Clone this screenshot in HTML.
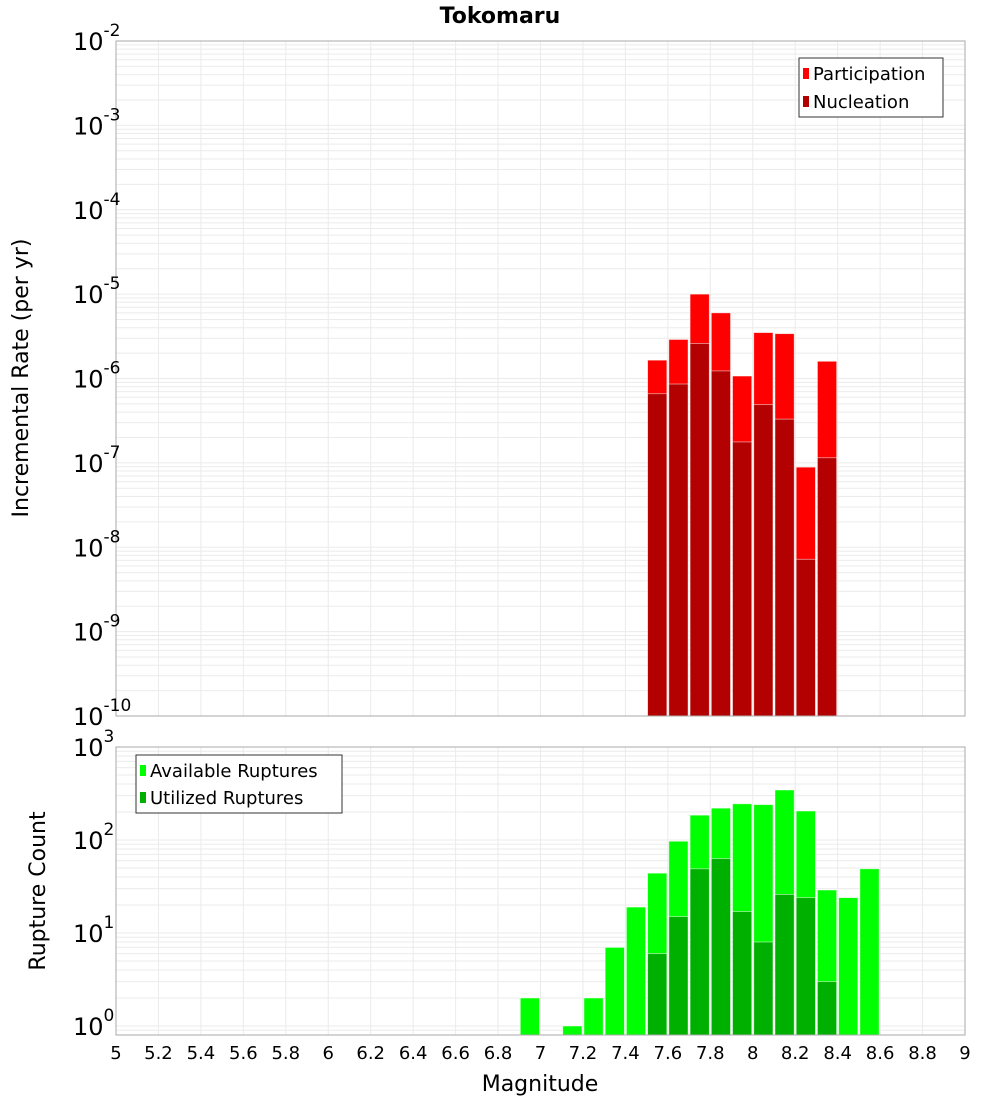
<!DOCTYPE html>
<html><head><meta charset="utf-8"><style>
body{margin:0;background:#fff;}
svg{display:block;font-family:"DejaVu Sans","Liberation Sans",sans-serif;}
</style></head><body>
<svg id="chart" width="1000" height="1100" xmlns="http://www.w3.org/2000/svg"></svg>
<script>
// Data
const topMags = [7.5,7.6,7.7,7.8,7.9,8.0,8.1,8.2,8.3];
const participation = [1.65e-6,2.9e-6,1.0e-5,6.0e-6,1.07e-6,3.5e-6,3.4e-6,8.9e-8,1.6e-6];
const nucleation = [6.6e-7,8.6e-7,2.6e-6,1.23e-6,1.77e-7,4.9e-7,3.3e-7,7.2e-9,1.15e-7];
const botMags = [6.9,7.1,7.2,7.3,7.4,7.5,7.6,7.7,7.8,7.9,8.0,8.1,8.2,8.3,8.4,8.5];
const available = [2,1,2,7,19,44,97,185,220,245,240,345,205,29,24,49];
const utilMags = [7.5,7.6,7.7,7.8,7.9,8.0,8.1,8.2,8.3];
const utilized = [6,15,49,63,17,8,26,24,3];
const xTicks = [5,5.2,5.4,5.6,5.8,6,6.2,6.4,6.6,6.8,7,7.2,7.4,7.6,7.8,8,8.2,8.4,8.6,8.8,9];
const topExps = [-2,-3,-4,-5,-6,-7,-8,-9,-10];
const botExps = [3,2,1,0];

const NS="http://www.w3.org/2000/svg";
const svg=document.getElementById('chart');
function el(tag,attrs,parent){const e=document.createElementNS(NS,tag);for(const k in attrs)e.setAttribute(k,attrs[k]);(parent||svg).appendChild(e);return e;}

const X0=116,X1=965;
const x=m=>X0+(m-5)/4*(X1-X0);
// top axis
const T0=41,T1=716;
const yTop=v=>T0+(-2-Math.log10(v))*(T1-T0)/8;
// bottom axis
const B0=747,B1=1035,BD=93;
const yBot=v=>B0+(3-Math.log10(v))*BD;

function grid(yTopPx,yBotPx,decFn,expsMin,expsMax){
  const g=el('g',{});
  
  
  for(let e=expsMin;e<expsMax;e++){
    for(let k=1;k<10;k++){
      const yy=decFn(k*Math.pow(10,e));
      if(yy<yTopPx||yy>yBotPx) continue;
      el('line',{x1:X0,x2:X1,y1:yy,y2:yy,stroke:'#ebebeb','stroke-width':1},g);
    }
  }
  xTicks.forEach(t=>{el('line',{x1:x(t),x2:x(t),y1:yTopPx,y2:yBotPx,stroke:'#ebebeb','stroke-width':1},g);});
}
grid(T0,T1,yTop,-10,-1);
grid(B0,B1,yBot,-1,3);

function bars(mags,vals,yFn,base,color,name){
  mags.forEach((m,i)=>{
    const xl=x(m)+1,xr=x(m+0.1)-1,yy=yFn(vals[i]);
    const r=el('rect',{x:xl,y:yy,width:xr-xl,height:base-yy,fill:color,stroke:'rgba(255,255,255,0.6)','stroke-width':0.8});
    
    
  });
}
bars(topMags,participation,yTop,T1,'#ff0000','participation');
bars(topMags,nucleation,yTop,T1,'#b30000','nucleation');
bars(botMags,available,yBot,B1,'#00ff00','available');
bars(utilMags,utilized,yBot,B1,'#00b000','utilized');

// frames
el('rect',{x:X0,y:T0,width:X1-X0,height:T1-T0,fill:'none',stroke:'#aaa','stroke-width':1});
el('rect',{x:X0,y:B0,width:X1-X0,height:B1-B0,fill:'none',stroke:'#aaa','stroke-width':1});

// y tick labels
function ylab(yy,exp){
  const t=el('text',{x:73,y:yy+9,'font-size':24,fill:'#000'});
  
  
  t.textContent='10';
  const s=el('tspan',{dy:-14,'font-size':17},t);s.textContent=String(exp);
}
topExps.forEach(e=>ylab(yTop(Math.pow(10,e)),e));
botExps.forEach(e=>ylab(yBot(Math.pow(10,e)),e));

// x tick labels
xTicks.forEach(t=>{
  const tx=el('text',{x:x(t),y:1059,'font-size':18,'text-anchor':'middle',fill:'#000'});
  
  
  tx.textContent=String(Math.round(t*10)/10);
});
</script>
<svg style="position:absolute;left:0;top:0" width="1000" height="1100" xmlns="http://www.w3.org/2000/svg" font-family="DejaVu Sans, Liberation Sans, sans-serif">
  <text x="500" y="23" font-size="22" font-weight="bold" text-anchor="middle">Tokomaru</text>
  <text x="540" y="1091" font-size="22" text-anchor="middle">Magnitude</text>
  <text transform="translate(28,378) rotate(-90)" font-size="22" text-anchor="middle">Incremental Rate (per yr)</text>
  <text transform="translate(45,891) rotate(-90)" font-size="22" text-anchor="middle">Rupture Count</text>
  <g>
    <rect x="799" y="58" width="144" height="59" fill="#fff" stroke="#333" stroke-width="1"/>
    <rect x="803" y="68" width="6" height="11" fill="#ff0000"/>
    <text x="813" y="80" font-size="18">Participation</text>
    <rect x="803" y="96" width="6" height="11" fill="#b30000"/>
    <text x="813" y="108" font-size="18">Nucleation</text>
  </g>
  <g>
    <rect x="136" y="755" width="206" height="58" fill="#fff" stroke="#333" stroke-width="1"/>
    <rect x="140" y="765" width="6" height="11" fill="#00ff00"/>
    <text x="150" y="777" font-size="18">Available Ruptures</text>
    <rect x="140" y="792" width="6" height="11" fill="#00b000"/>
    <text x="150" y="804" font-size="18">Utilized Ruptures</text>
  </g>
</svg>
</body></html>
